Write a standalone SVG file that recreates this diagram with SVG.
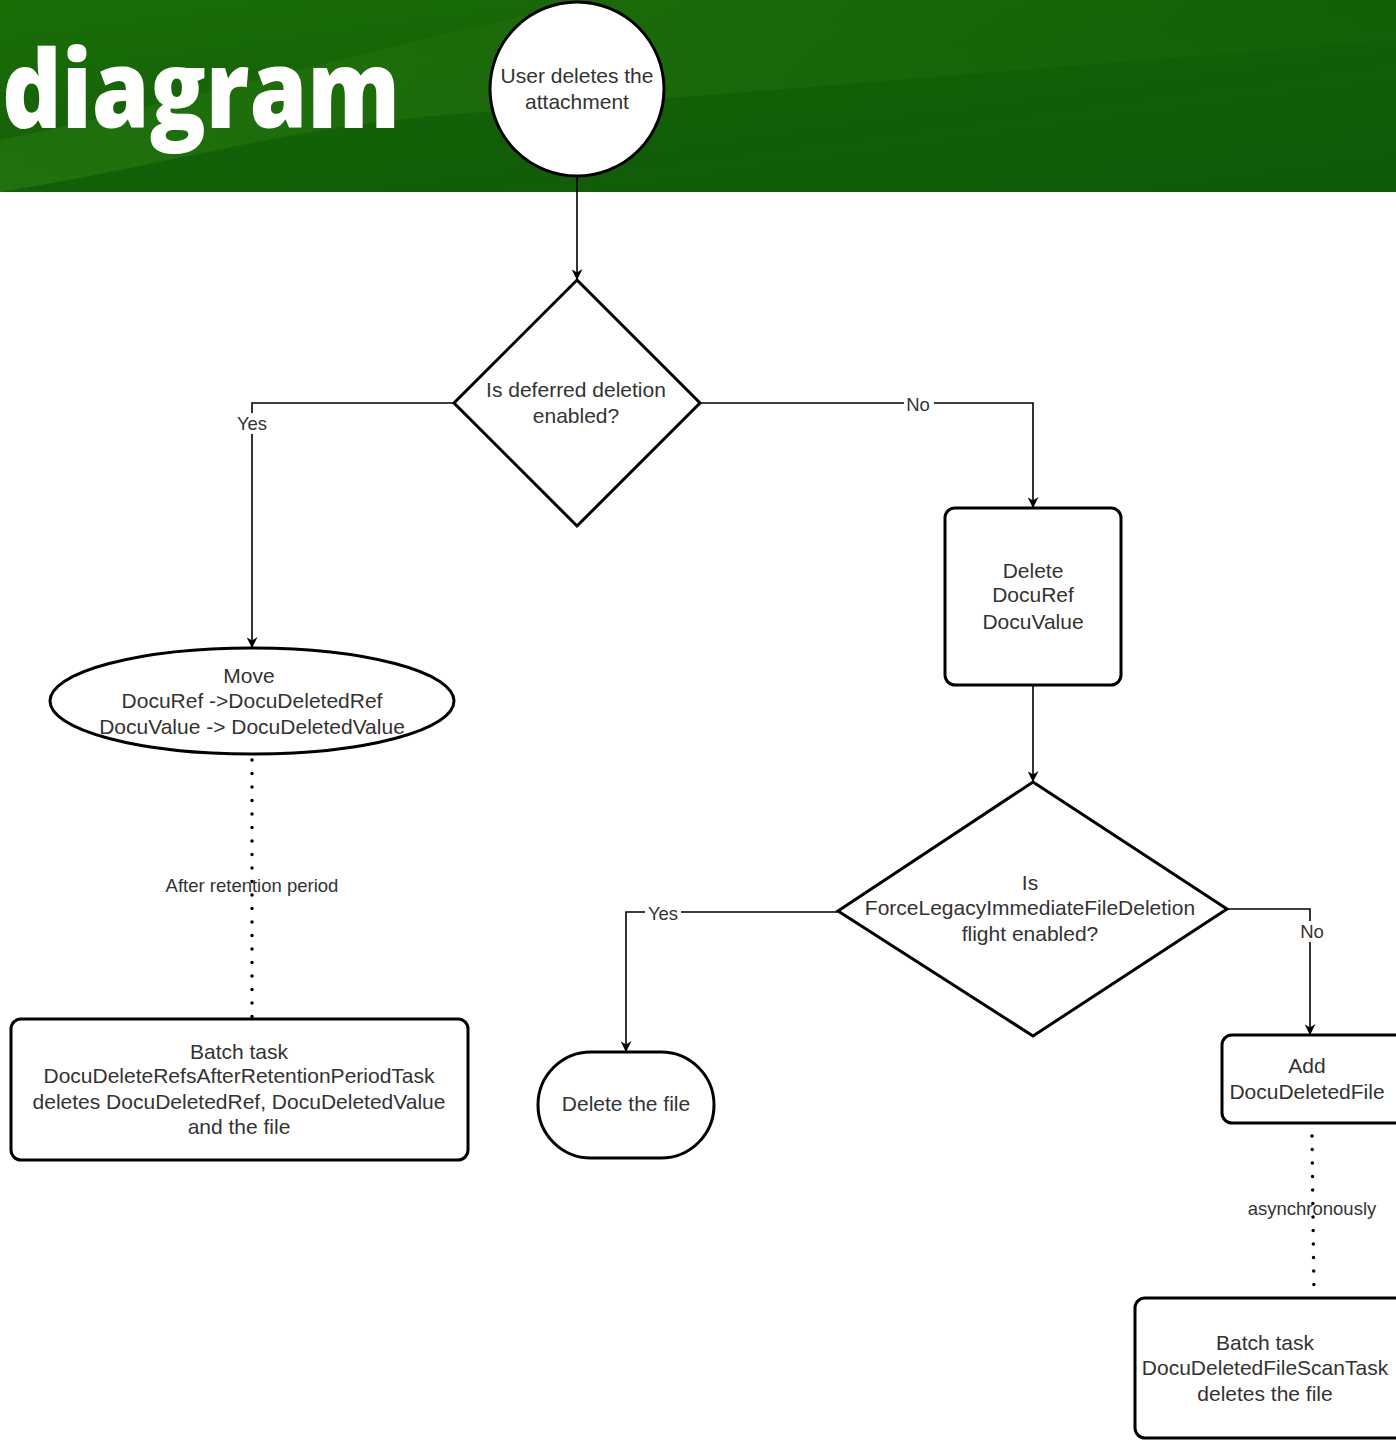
<svg xmlns="http://www.w3.org/2000/svg" width="1396" height="1440" viewBox="0 0 1396 1440">
<defs>
<linearGradient id="bg" x1="0" y1="0" x2="1" y2="1">
<stop offset="0" stop-color="#1a6e06"/>
<stop offset="0.5" stop-color="#135f07"/>
<stop offset="1" stop-color="#0f5a0a"/>
</linearGradient>
<linearGradient id="sweep" x1="0" y1="1" x2="1" y2="0">
<stop offset="0" stop-color="#2a7d12" stop-opacity="0.6"/>
<stop offset="1" stop-color="#2a7d12" stop-opacity="0"/>
</linearGradient>
<marker id="arr" viewBox="0 0 10 10" refX="9" refY="5" markerWidth="11" markerHeight="11" markerUnits="userSpaceOnUse" orient="auto">
<path d="M0,0 L10,5 L0,10 L3,5 Z" fill="#000"/>
</marker>
<style>
.shape{fill:#fff;stroke:#000;stroke-width:3}
.t{font-family:"Liberation Sans",Arial,sans-serif;font-size:21px;fill:#333;text-anchor:middle}
.lbl{font-family:"Liberation Sans",Arial,sans-serif;font-size:18.5px;fill:#333;text-anchor:middle}
.edge{fill:none;stroke:#000;stroke-width:1.6}
.dot{fill:none;stroke:#000;stroke-width:3.5;stroke-linecap:round;stroke-dasharray:0 13.5}
.lb{fill:#fff}
</style>
</defs>
<g id="header">
<rect x="0" y="0" width="1396" height="192" fill="url(#bg)"/>
<path d="M0,192 C200,160 300,120 520,110 L1396,40 L1396,0 L600,0 C400,40 150,110 0,140 Z" fill="url(#sweep)"/>
<text x="2" y="128" font-family="'Open Sans','DejaVu Sans',sans-serif" font-weight="800" font-size="108" fill="#fff" textLength="398" lengthAdjust="spacingAndGlyphs">diagram</text>
</g>
<g id="connectors">
<line class="edge" x1="577" y1="177" x2="577" y2="279" marker-end="url(#arr)"/>
<polyline class="edge" points="454,403 252,403 252,647" marker-end="url(#arr)"/>
<rect class="lb" x="234" y="413" width="37" height="21"/>
<text class="lbl" x="252" y="430">Yes</text>
<polyline class="edge" points="700,403 1033,403 1033,507" marker-end="url(#arr)"/>
<rect class="lb" x="904" y="394" width="30" height="21"/>
<text class="lbl" x="918" y="411">No</text>
<line class="edge" x1="1033" y1="685" x2="1033" y2="781" marker-end="url(#arr)"/>
<polyline class="edge" points="838,912 626,912 626,1051" marker-end="url(#arr)"/>
<rect class="lb" x="645" y="903" width="36" height="21"/>
<text class="lbl" x="663" y="920">Yes</text>
<polyline class="edge" points="1227,909 1310,909 1310,1034" marker-end="url(#arr)"/>
<rect class="lb" x="1297" y="921" width="30" height="21"/>
<text class="lbl" x="1312" y="938">No</text>
<line class="dot" x1="252" y1="760" x2="252" y2="1017"/>
<text class="lbl" x="252" y="892">After retention period</text>
<line class="dot" x1="1312" y1="1136" x2="1314" y2="1296"/>
<text class="lbl" x="1312" y="1215">asynchronously</text>
</g>
<g id="start">
<ellipse class="shape" cx="577" cy="89" rx="87" ry="87"/>
<text class="t" x="577" y="83">User deletes the</text>
<text class="t" x="577" y="109">attachment</text>
</g>
<g id="decision1">
<polygon class="shape" points="577,280 700,403 577,526 454,403"/>
<text class="t" x="576" y="397">Is deferred deletion</text>
<text class="t" x="576" y="423">enabled?</text>
</g>
<g id="move">
<ellipse class="shape" cx="252" cy="701" rx="202" ry="53"/>
<text class="t" x="249" y="683">Move</text>
<text class="t" x="252" y="708">DocuRef -&gt;DocuDeletedRef</text>
<text class="t" x="252" y="734">DocuValue -&gt; DocuDeletedValue</text>
</g>
<g id="batch1">
<rect class="shape" x="11" y="1019" width="457" height="141" rx="10"/>
<text class="t" x="239" y="1059">Batch task</text>
<text class="t" x="239" y="1083">DocuDeleteRefsAfterRetentionPeriodTask</text>
<text class="t" x="239" y="1109">deletes DocuDeletedRef, DocuDeletedValue</text>
<text class="t" x="239" y="1134">and the file</text>
</g>
<g id="deleteRef">
<rect class="shape" x="945" y="508" width="176" height="177" rx="10"/>
<text class="t" x="1033" y="578">Delete</text>
<text class="t" x="1033" y="602">DocuRef</text>
<text class="t" x="1033" y="629">DocuValue</text>
</g>
<g id="decision2">
<polygon class="shape" points="1033,782 1227,909 1033,1036 838,911"/>
<text class="t" x="1030" y="890">Is</text>
<text class="t" x="1030" y="915">ForceLegacyImmediateFileDeletion</text>
<text class="t" x="1030" y="941">flight enabled?</text>
</g>
<g id="deleteFile">
<rect class="shape" x="538" y="1052" width="176" height="106" rx="53"/>
<text class="t" x="626" y="1111">Delete the file</text>
</g>
<g id="addDeleted">
<rect class="shape" x="1222" y="1035" width="184" height="88" rx="10"/>
<text class="t" x="1307" y="1073">Add</text>
<text class="t" x="1307" y="1099">DocuDeletedFile</text>
</g>
<g id="batch2">
<rect class="shape" x="1135" y="1298" width="271" height="140" rx="10"/>
<text class="t" x="1265" y="1350">Batch task</text>
<text class="t" x="1265" y="1375">DocuDeletedFileScanTask</text>
<text class="t" x="1265" y="1401">deletes the file</text>
</g>
</svg>
